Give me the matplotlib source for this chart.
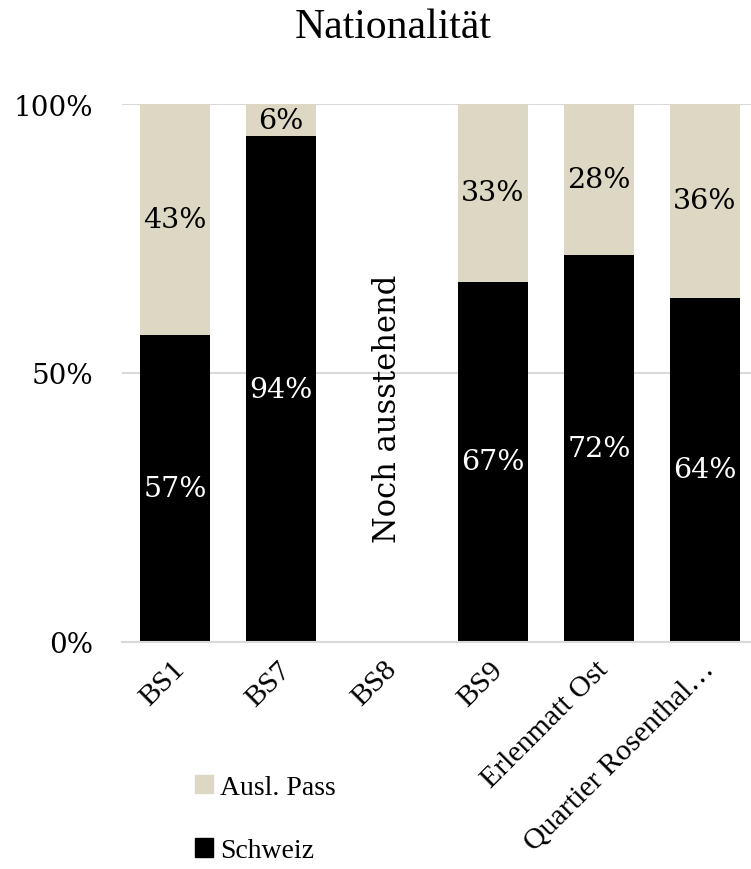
import matplotlib
matplotlib.use("Agg")
import matplotlib.pyplot as plt
import matplotlib.transforms as mtransforms
import numpy as np
from matplotlib.patches import Patch

categories = ["BS1", "BS7", "BS8", "BS9", "Erlenmatt Ost", "Quartier Rosenthal…"]
schweiz = [57, 94, np.nan, 67, 72, 64]
ausl_pass = [43, 6, np.nan, 33, 28, 36]
pending_label = "Noch ausstehend"
yticks = [0, 50, 100]
ytick_labels = ["0%", "50%", "100%"]

c_schweiz = "#000000"
c_ausl = "#DDD8C4"
num_font = "DejaVu Serif"
txt_font = "Liberation Serif"

fig = plt.figure(figsize=(7.51, 8.70), dpi=100)
ax = fig.add_axes([122/751, 1 - 643/870, 629/751, 538/870])

x = np.arange(len(categories))
w = 0.66
s = np.nan_to_num(np.array(schweiz, dtype=float))
a = np.nan_to_num(np.array(ausl_pass, dtype=float))
ax.bar(x, s, w, color=c_schweiz, zorder=2, label="Schweiz")
ax.bar(x, a, w, bottom=s, color=c_ausl, zorder=2, label="Ausl. Pass")

for i in range(len(categories)):
    if np.isnan(schweiz[i]):
        ax.text(x[i], 43.5, pending_label, rotation=90, ha="center", va="center",
                fontsize=22, family=num_font, color="black")
        continue
    if schweiz[i] > 0:
        ax.text(x[i], schweiz[i] / 2, f"{schweiz[i]:.0f}%", ha="center", va="center",
                fontsize=20.5, family=num_font, color="white", zorder=3)
    if ausl_pass[i] > 0:
        ax.text(x[i], schweiz[i] + ausl_pass[i] / 2, f"{ausl_pass[i]:.0f}%", ha="center",
                va="center", fontsize=20.5, family=num_font, color="black", zorder=3)

ax.set_xlim(-0.5, -0.5 + 629/106)
ax.set_ylim(0, 100)
ax.set_yticks(yticks)
ax.set_yticklabels(ytick_labels, family=num_font, fontsize=20)
ax.set_xticks(x)
ax.tick_params(axis="both", length=0)
ax.tick_params(axis="y", pad=21)
ax.tick_params(axis="x", pad=10)
ax.set_xticklabels(categories, rotation=45, ha="right", rotation_mode="anchor",
                   family=txt_font, fontsize=21.5)
offset = mtransforms.ScaledTranslation(-4/100, 0, fig.dpi_scale_trans)
for lbl in ax.get_xticklabels():
    lbl.set_transform(lbl.get_transform() + offset)
ax.yaxis.grid(True, color="#D9D9D9", linewidth=1.5, zorder=0)
for sp in ["top", "right", "left"]:
    ax.spines[sp].set_visible(False)
ax.spines["bottom"].set_color("#D9D9D9")
ax.spines["bottom"].set_linewidth(1.5)

fig.text(393/751, 1 - 28/870, "Nationalität", ha="center", va="center",
         family=txt_font, fontsize=30)

handles = [Patch(color=c_ausl), Patch(color=c_schweiz)]
leg = fig.legend(handles, ["Ausl. Pass", "Schweiz"], loc="center left",
                 bbox_to_anchor=(170/751, 1 - 820/870), frameon=False,
                 prop={"family": txt_font, "size": 20}, handlelength=0.65,
                 handleheight=0.65, handletextpad=0.25, labelspacing=1.4)

fig.savefig("out.png", dpi=100)
